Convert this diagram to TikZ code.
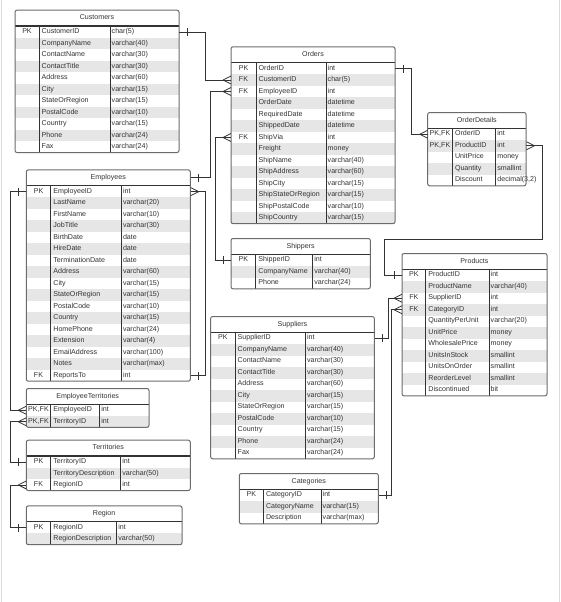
\documentclass[tikz,border=0pt]{standalone}
\usepackage{fontspec}
\setmainfont{Liberation Sans}

\definecolor{rowgray}{HTML}{E6E6E6}
\definecolor{boxgray}{HTML}{6B6B6B}
\definecolor{inkdark}{HTML}{333333}
\definecolor{framegray}{HTML}{DADADA}

\tikzset{
  rowbox/.style={rectangle, draw=none, inner sep=0pt, minimum height=11.5pt},
  titlebox/.style={rectangle, inner sep=0pt, minimum height=15.8pt},
  cell/.style={inner sep=0pt, text=inkdark, text height=5.2pt, text depth=1.5pt,
    font=\fontsize{7.1}{8}\selectfont},
  tableborder/.style={draw=boxgray, line width=1pt, rounded corners=2pt},
  sepline/.style={draw=inkdark, line width=1.3pt},
  colline/.style={draw=inkdark, line width=0.8pt},
  conn/.style={draw=inkdark, line width=0.8pt},
  edge frame/.style={draw=framegray, line width=0.8pt}
}

\newcommand{\rowh}{11.5}
\newcommand{\titleh}{15.8}

% #1 name, #2 title, #3 left, #4 top of rows, #5 key | field, #6 field | type, #7 right, #8 rows
\newcommand{\ertable}[8]{%
  \node[titlebox, cell, minimum width={#7-#3}] (#1) at ({(#3+#7)/2},{#4-\titleh/2}) {#2};
  \foreach \kk/\fd/\ty [count=\i] in {#8} {
    \pgfmathsetmacro{\ya}{#4+(\i-1)*\rowh}
    \ifodd\i \def\rowfill{white}\else \def\rowfill{rowgray}\fi
    \node[rowbox, fill=\rowfill, minimum width={#7-#3}, anchor=north west] (#1-\i) at (#3,\ya) {};
    \node[cell] at ({(#3+#5)/2},{\ya+\rowh/2}) {\kk};
    \node[cell, anchor=west] at ({#5+2.5},{\ya+\rowh/2}) {\fd};
    \node[cell, anchor=west] at ({#6+1.5},{\ya+\rowh/2}) {\ty};
    \xdef\nrows{\i}
  }
  \pgfmathsetmacro{\yb}{#4+\nrows*\rowh}
  \draw[sepline] (#3,#4) -- (#7,#4);
  \draw[colline] (#5,#4) -- (#5,\yb) (#6,#4) -- (#6,\yb);
  \draw[tableborder] (#3,{#4-\titleh}) rectangle (#7,\yb);
}

% crow's foot and bar at a row anchor; #2 = -1 west side, 1 east side
\newcommand{\crowfoot}[2]{%
  \draw[conn] ([xshift=#2*8pt]#1) -- ([yshift=4pt]#1)
              ([xshift=#2*8pt]#1) -- ([yshift=-4pt]#1);}
\newcommand{\onebar}[2]{%
  \draw[conn] ([xshift=#2*7.5pt,yshift=4pt]#1) -- ([xshift=#2*7.5pt,yshift=-4pt]#1);}

\begin{document}
\begin{tikzpicture}[x=1pt,y=-1pt]
\useasboundingbox (0,0) rectangle (560,602);
\draw[edge frame] (1,0) -- (1,602) (559,0) -- (559,602);

\ertable{cust}{Customers}{15}{26}{39}{110}{179}{%
  PK/CustomerID/char(5), /CompanyName/varchar(40), /ContactName/varchar(30),
  /ContactTitle/varchar(30), /Address/varchar(60), /City/varchar(15),
  /StateOrRegion/varchar(15), /PostalCode/varchar(10), /Country/varchar(15),
  /Phone/varchar(24), /Fax/varchar(24)}

\ertable{ord}{Orders}{231}{62.6}{256}{326}{395}{%
  PK/OrderID/int, FK/CustomerID/char(5), FK/EmployeeID/int, /OrderDate/datetime,
  /RequiredDate/datetime, /ShippedDate/datetime, FK/ShipVia/int, /Freight/money,
  /ShipName/varchar(40), /ShipAddress/varchar(60), /ShipCity/varchar(15),
  /ShipStateOrRegion/varchar(15), /ShipPostalCode/varchar(10), /ShipCountry/varchar(15)}

\ertable{od}{OrderDetails}{427.7}{128.3}{452.3}{495.7}{526}{%
  {PK,FK}/OrderID/int, {PK,FK}/ProductID/int, /UnitPrice/money, /Quantity/smallint,
  /Discount/{decimal(3,2)}}

\ertable{emp}{Employees}{26.3}{185.7}{50.7}{121.3}{190.3}{%
  PK/EmployeeID/int, /LastName/varchar(20), /FirstName/varchar(10), /JobTitle/varchar(30),
  /BirthDate/date, /HireDate/date, /TerminationDate/date, /Address/varchar(60),
  /City/varchar(15), /StateOrRegion/varchar(15), /PostalCode/varchar(10),
  /Country/varchar(15), /HomePhone/varchar(24), /Extension/varchar(4),
  /EmailAddress/varchar(100), /Notes/varchar(max), FK/ReportsTo/int}

\ertable{ship}{Shippers}{231}{254.3}{255.7}{312.7}{370.3}{%
  PK/ShipperID/int, /CompanyName/varchar(40), /Phone/varchar(24)}

\ertable{sup}{Suppliers}{210.7}{332.3}{235}{305.3}{374.3}{%
  PK/SupplierID/int, /CompanyName/varchar(40), /ContactName/varchar(30),
  /ContactTitle/varchar(30), /Address/varchar(60), /City/varchar(15),
  /StateOrRegion/varchar(15), /PostalCode/varchar(10), /Country/varchar(15),
  /Phone/varchar(24), /Fax/varchar(24)}

\ertable{cat}{Categories}{239.3}{489.3}{263.3}{321}{378.3}{%
  PK/CategoryID/int, /CategoryName/varchar(15), /Description/varchar(max)}

\ertable{prod}{Products}{402}{269.3}{425.7}{489}{547}{%
  PK/ProductID/int, /ProductName/varchar(40), FK/SupplierID/int, FK/CategoryID/int,
  /QuantityPerUnit/varchar(20), /UnitPrice/money, /WholesalePrice/money,
  /UnitsInStock/smallint, /UnitsOnOrder/smallint, /ReorderLevel/smallint,
  /Discontinued/bit}

\ertable{et}{EmployeeTerritories}{26.3}{404.3}{50.7}{99.7}{149}{%
  {PK,FK}/EmployeeID/int, {PK,FK}/TerritoryID/int}

\ertable{terr}{Territories}{26.3}{456}{50.7}{120.7}{190.3}{%
  PK/TerritoryID/int, /TerritoryDescription/varchar(50), FK/RegionID/int}

\ertable{reg}{Region}{26.3}{521.7}{50.7}{116.7}{182}{%
  PK/RegionID/int, /RegionDescription/varchar(50)}

% relationships
\draw[conn] (cust-1.east) -- ++(26,0) |- (ord-2.west);
\onebar{cust-1.east}{1} \crowfoot{ord-2.west}{-1}

\draw[conn] (emp.east) -- ++(20,0) |- (ord-3.west);
\onebar{emp.east}{1} \crowfoot{ord-3.west}{-1}

\draw[conn] (ship-1.west) -- ++(-16,0) |- (ord-7.west);
\onebar{ship-1.west}{-1} \crowfoot{ord-7.west}{-1}

\draw[conn] (ord-1.east) -- ++(16,0) |- (od-1.west);
\onebar{ord-1.east}{1} \crowfoot{od-1.west}{-1}

\coordinate (odbend) at (542,239);
\draw[conn] (prod-1.west) -- ++(-18,0) |- (odbend) |- (od-2.east);
\onebar{prod-1.west}{-1} \crowfoot{od-2.east}{1}

\draw[conn] (sup-1.east) -- ++(14,0) |- (prod-3.west);
\onebar{sup-1.east}{1} \crowfoot{prod-3.west}{-1}

\draw[conn] (cat-1.east) -- ++(13,0) |- (prod-4.west);
\onebar{cat-1.east}{1} \crowfoot{prod-4.west}{-1}

\draw[conn] (emp-1.west) -- ++(-16,0) |- (et-1.west);
\onebar{emp-1.west}{-1} \crowfoot{et-1.west}{-1}

\draw[conn] (emp-17.east) -- ++(15,0) |- (emp-1.east);
\onebar{emp-17.east}{1} \crowfoot{emp-1.east}{1}

\draw[conn] (terr-1.west) -- ++(-16,0) |- (et-2.west);
\onebar{terr-1.west}{-1} \crowfoot{et-2.west}{-1}

\draw[conn] (reg-1.west) -- ++(-16,0) |- (terr-3.west);
\onebar{reg-1.west}{-1} \crowfoot{terr-3.west}{-1}
\end{tikzpicture}
\end{document}
